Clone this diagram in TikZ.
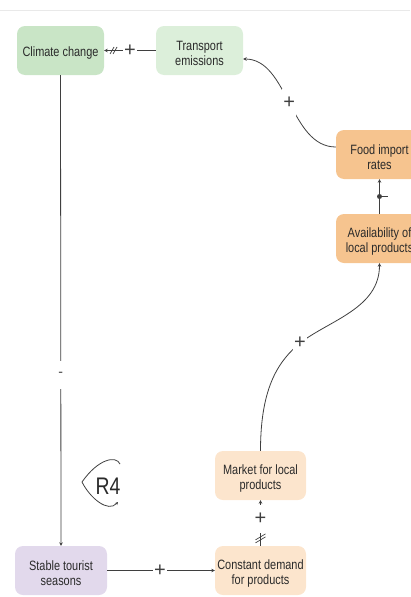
\documentclass[tikz,border=0pt]{standalone}
\usepackage{fontspec}
\setmainfont{Liberation Sans}
\newfontfamily\condfont{Liberation Sans}[FakeStretch=0.81]
\usetikzlibrary{arrows.meta,decorations.markings}

\definecolor{edge}{HTML}{3F3F3F}
\definecolor{txt}{HTML}{2A2A2A}
\definecolor{rule}{HTML}{E9E9E9}
\definecolor{greenA}{HTML}{C9E5C6}
\definecolor{greenB}{HTML}{DCEFDA}
\definecolor{orangeA}{HTML}{F6C48F}
\definecolor{orangeB}{HTML}{FCE5CD}
\definecolor{lilac}{HTML}{E2D9EC}

\tikzset{
  box/.style={rounded corners=8pt, minimum height=49pt, inner sep=2pt,
    align=center, text=txt, font=\condfont\fontsize{13.5}{15.5}\selectfont,
    lift=15pt},
  % extra room above the text block so the lines sit a little lower
  lift/.style={execute at begin node={\rule{0pt}{#1}}},
  twolines/.style={lift=31pt},
  link/.style={draw=edge, line width=0.8pt, -{Stealth[length=3.5pt,width=3.5pt]}},
  pol/.style={fill=white, inner sep=0pt, minimum width=14pt, minimum height=28pt,
    text=edge, font=\fontsize{20}{20}\selectfont},
  delayh/.style={postaction={decorate, decoration={markings,
    mark=at position #1 with {\draw[edge, line width=0.7pt, -]
      (-2pt,-3.5pt) -- (2pt,3.5pt) (1pt,-3.5pt) -- (5pt,3.5pt);}}}},
  delayv/.style={postaction={decorate, decoration={markings,
    mark=at position #1 with {\draw[edge, line width=0.7pt, -]
      (-3pt,5pt) -- (3pt,-5pt) (0pt,5pt) -- (6pt,-5pt);}}}},
}

\begin{document}
\begin{tikzpicture}[x=1pt, y=-1pt]
\useasboundingbox (0,0) rectangle (410,597);

% header rule
\draw[rule, line width=1pt] (0,10) -- (410,10);

% variables
\node[box, fill=greenA, minimum width=87pt] (cc) at (60.5,50.5) {Climate change};
\node[box, twolines, fill=greenB, minimum width=87pt] (te) at (199.5,50.5) {Transport\\emissions};
\node[box, twolines, fill=orangeA, minimum width=87pt] (fir) at (379.5,154.5) {Food import\\rates};
\node[box, twolines, fill=orangeA, minimum width=87pt] (av) at (379.5,238.5) {Availability of\\local products};
\node[box, twolines, fill=orangeB, minimum width=91pt] (mlp) at (260.5,475.5) {Market for local\\products};
\node[box, twolines, fill=orangeB, minimum width=91pt] (cd) at (260.5,570.5) {Constant demand\\for products};
\node[box, twolines, fill=lilac, minimum width=92pt] (sts) at (61,570.5) {Stable tourist\\seasons};

% causal links
\draw[link, delayh=0.79] (te.west) -- node[pol, pos=0.5] {+} (cc.east);

\draw[link] ([yshift=7.5pt]fir.west) .. controls +(-46,0) and +(45,0) ..
  node[pol, pos=0.5] {+} ([yshift=-8.5pt]te.east);

\draw[link] (av.north) -- coordinate[pos=0.5] (avmark) (fir.south);
\fill[edge] (avmark) circle (2.5pt);
\draw[edge, line width=1.1pt] (avmark) -- ++(8,0);

\draw[link] (mlp.north) .. controls +(0,-66) and (280,360) ..
  (300,343) node[pol] (mlpplus) {+}
  .. controls (330,320) and +(0,45) .. (av.south);

\draw[link, delayv=0.13] (cd.north) -- node[pol, pos=0.587] {+} (mlp.south);

\draw[link] (sts.east) -- node[pol, pos=0.49] {+} (cd.west);

\draw[link] (cc.south) -- node[pol, pos=0.636, font=\fontsize{14}{14}\selectfont] {-} (sts.north);

% loop marker
\node[text=txt, inner sep=0pt, font=\condfont\fontsize{24}{24}\selectfont] (r4) at (108,486) {R4};
\draw[edge, line width=0.8pt, -{Stealth[length=3pt,width=3pt]}]
  (120,464) .. controls (116,455) and (98,459) .. (82,482)
  .. controls (90,498) and (108,513) .. (118,502);
\end{tikzpicture}
\end{document}
